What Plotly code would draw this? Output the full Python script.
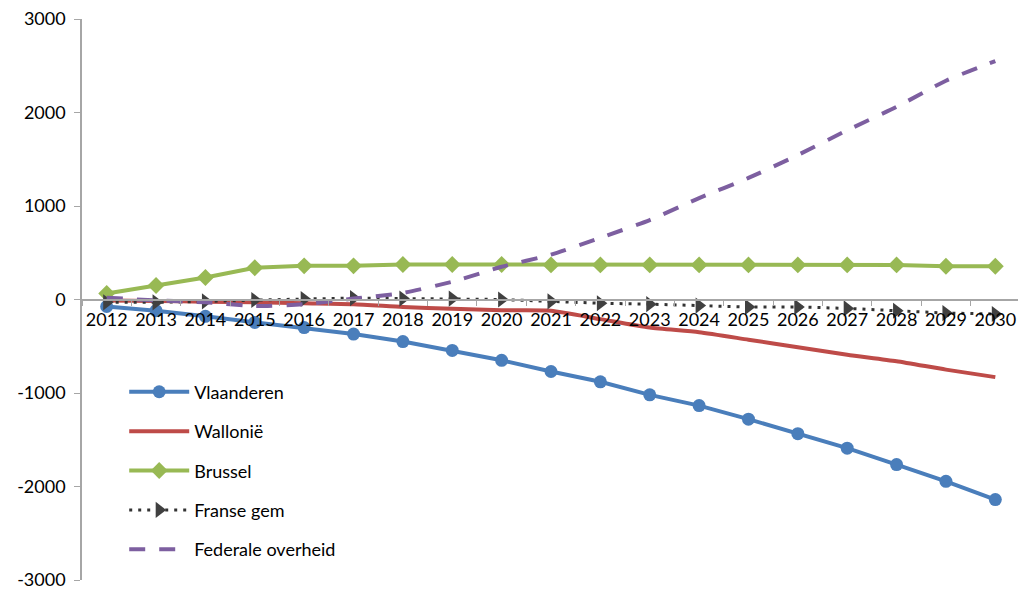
import plotly.graph_objects as go

years = [str(y) for y in range(2012, 2031)]

vlaanderen = [-75, -120, -180, -245, -300, -370, -450, -545, -650, -770, -880, -1020, -1135, -1280, -1435, -1590, -1765, -1945, -2140]
wallonie = [-10, -15, -25, -30, -40, -50, -80, -100, -115, -120, -210, -300, -350, -430, -510, -590, -660, -750, -830]
brussel = [65, 150, 235, 340, 360, 360, 375, 375, 375, 370, 370, 370, 370, 370, 370, 370, 370, 355, 355]
franse_gem = [-30, -30, -20, -5, 5, 15, 10, 10, 0, -20, -40, -50, -65, -80, -80, -95, -120, -145, -155]
federale = [20, -10, -30, -70, -50, 10, 70, 190, 350, 480, 660, 850, 1085, 1300, 1545, 1810, 2060, 2340, 2550]

yticks = [-3000, -2000, -1000, 0, 1000, 2000, 3000]

fig = go.Figure()

fig.add_trace(go.Scatter(
    x=years, y=vlaanderen, name="Vlaanderen", mode="lines+markers",
    line=dict(color="#4A7EBB", width=4),
    marker=dict(symbol="circle", size=13, color="#4A7EBB"),
    legendgroup="a"))
fig.add_trace(go.Scatter(
    x=years, y=wallonie, name="Wallonië", mode="lines",
    line=dict(color="#BE4B48", width=4, shape="spline", smoothing=0.6),
    legendgroup="b"))
fig.add_trace(go.Scatter(
    x=years, y=brussel, name="Brussel", mode="lines+markers",
    line=dict(color="#98B954", width=4),
    marker=dict(symbol="diamond", size=13, color="#98B954"),
    legendgroup="c"))
fig.add_trace(go.Scatter(
    x=years, y=franse_gem, name="Franse gem", mode="lines+markers",
    line=dict(color="#333333", width=3, dash="3px,6px"),
    marker=dict(symbol="triangle-right", size=14, color="#404040"),
    legendgroup="d"))
fig.add_trace(go.Scatter(
    x=years, y=federale, name="Federale overheid", mode="lines",
    line=dict(color="#7D5FA0", width=4, dash="16px,14px", shape="spline", smoothing=0.6),
    legendgroup="e"))

fig.update_layout(
    width=1018, height=584,
    margin=dict(l=74, r=6, t=11, b=12),
    paper_bgcolor="white", plot_bgcolor="white",
    font=dict(family="Lato, Liberation Sans, sans-serif", size=18, color="#000000"),
    showlegend=True,
    legend=dict(
        x=0.045, y=0.368, xanchor="left", yanchor="top",
        bgcolor="rgba(0,0,0,0)",
        font=dict(size=18, color="#000000"),
        traceorder="grouped", tracegroupgap=13,
        itemwidth=60,
    ),
    xaxis=dict(
        type="category",
        range=[-0.5, 18.5],
        anchor="free", position=0.5,
        automargin=False,
        tickangle=0,
        ticklabelstandoff=4,
        showline=True, linecolor="#A6A6A6", linewidth=1.5,
        ticks="outside", ticklen=6, tickcolor="#A6A6A6",
        tickson="boundaries",
        showgrid=False, zeroline=False,
        tickfont=dict(size=18, color="#000000"),
    ),
    yaxis=dict(
        range=[-3000, 3000],
        automargin=False,
        ticklabeloverflow="allow",
        ticklabelstandoff=5,
        tickvals=yticks,
        ticktext=[str(v) for v in yticks],
        showline=True, linecolor="#A6A6A6", linewidth=1.5,
        ticks="outside", ticklen=6, tickcolor="#A6A6A6",
        showgrid=False, zeroline=False,
        tickfont=dict(size=18, color="#000000"),
    ),
)

fig.write_html("out.html")
